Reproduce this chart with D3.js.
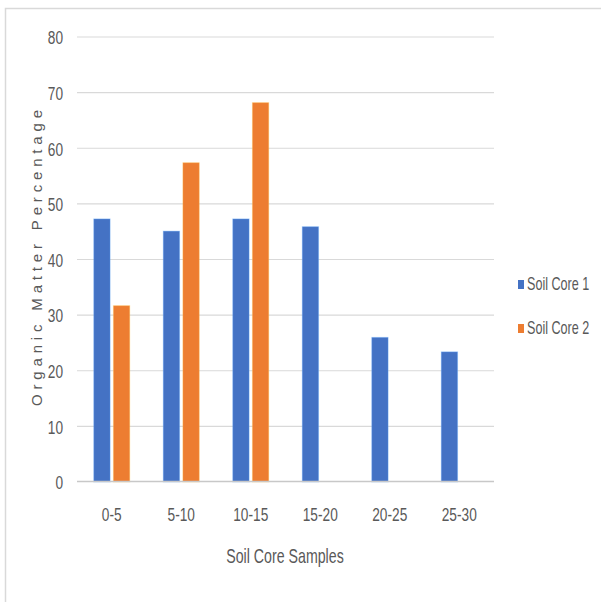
<!DOCTYPE html>
<html>
<head>
<meta charset="utf-8">
<script src="https://cdn.jsdelivr.net/npm/d3@7"></script>
<style>
  html, body { margin: 0; padding: 0; background: #fff; }
  svg { display: block; }
  .narrow { font-family: "Liberation Sans Narrow", "Liberation Sans", sans-serif; fill: #595959; }
</style>
</head>
<body>
<svg id="chart" width="601" height="602"></svg>
<script>
// Organic matter by depth interval for two soil cores
const categories = ["0-5", "5-10", "10-15", "15-20", "20-25", "25-30"];
const seriesNames = ["Soil Core 1", "Soil Core 2"];
const core1 = [47.3, 45.1, 47.3, 45.9, 26.0, 23.4];
const core2 = [31.7, 57.4, 68.2, null, null, null];
const yTicks = [0, 10, 20, 30, 40, 50, 60, 70, 80];
const colors = ["#4472C4", "#ED7D31"];

// condensed look for the labels
const SQUEEZE = "scale(0.72,1)";

const svg = d3.select("#chart");

// chart frame
svg.append("path")
  .attr("d", "M5.5,602 V8.5 H601")
  .attr("fill", "none")
  .attr("stroke", "#d9d9d9")
  .attr("stroke-width", 1.5);

const plot = { left: 77, right: 494, top: 37, bottom: 482 };

const x = d3.scaleBand()
  .domain(categories)
  .range([plot.left, plot.right]);

const x1 = d3.scaleBand()
  .domain(seriesNames)
  .range([0, 36])
  .paddingInner(6 / 36);

const y = d3.scaleLinear()
  .domain([0, 80])
  .range([plot.bottom, plot.top]);

// horizontal gridlines
svg.append("g")
  .selectAll("line")
  .data(yTicks.filter(t => t > 0))
  .join("line")
  .attr("x1", plot.left)
  .attr("x2", plot.right)
  .attr("y1", d => y(d))
  .attr("y2", d => y(d))
  .attr("stroke", "#d9d9d9")
  .attr("stroke-width", 1.2);

// y axis labels
const yAxis = d3.axisLeft(y).tickValues(yTicks).tickSize(0).tickPadding(0);
const gy = svg.append("g")
  .attr("transform", `translate(${plot.left - 14},0)`)
  .call(yAxis);
gy.select(".domain").remove();
gy.selectAll("text")
  .attr("class", "narrow")
  .attr("font-size", 19)
  .attr("fill", "#595959")
  .attr("dy", "0.36em")
  .attr("transform", SQUEEZE);

// bars
const groups = [core1, core2];
groups.forEach((vals, si) => {
  svg.append("g")
    .selectAll("rect")
    .data(vals.map((v, i) => ({ cat: categories[i], v })).filter(d => d.v != null))
    .join("rect")
    .attr("x", d => x(d.cat) + x.bandwidth() / 2 - 18 + x1(seriesNames[si]))
    .attr("width", x1.bandwidth())
    .attr("y", d => y(d.v))
    .attr("height", d => y(0) - y(d.v))
    .attr("fill", colors[si])
    .attr("stroke", d3.color(colors[si]).brighter(1.2))
    .attr("stroke-opacity", 0.35)
    .attr("stroke-width", 1);
});

// category axis
svg.append("line")
  .attr("x1", plot.left)
  .attr("x2", plot.right)
  .attr("y1", y(0) - 0.5)
  .attr("y2", y(0) - 0.5)
  .attr("stroke", "#c8c8c8")
  .attr("stroke-width", 1.3);

const xAxis = d3.axisBottom(x).tickSize(0).tickPadding(0);
const gx = svg.append("g")
  .attr("transform", `translate(0,514)`)
  .call(xAxis);
gx.select(".domain").remove();
gx.selectAll("text")
  .attr("class", "narrow")
  .attr("font-size", 19)
  .attr("fill", "#595959")
  .attr("dy", "0.36em")
  .attr("transform", SQUEEZE);

// axis titles
svg.append("text")
  .attr("class", "narrow")
  .attr("transform", "translate(285,556) scale(0.71,1)")
  .attr("text-anchor", "middle")
  .attr("dy", "0.36em")
  .attr("font-size", 20)
  .text("Soil Core Samples");

svg.append("text")
  .attr("transform", "translate(42,258) rotate(-90)")
  .attr("text-anchor", "middle")
  .attr("font-family", "'Liberation Sans', Arial, sans-serif")
  .attr("font-size", 15)
  .attr("fill", "#595959")
  .attr("textLength", 296)
  .attr("lengthAdjust", "spacing")
  .text("Organic Matter Percentage");

// legend
const legend = svg.append("g")
  .selectAll("g")
  .data(seriesNames)
  .join("g")
  .attr("transform", (d, i) => `translate(518,${284 + i * 44})`);
legend.append("rect")
  .attr("x", 0)
  .attr("y", -4)
  .attr("width", 6)
  .attr("height", 9)
  .attr("fill", (d, i) => colors[i]);
legend.append("text")
  .attr("class", "narrow")
  .attr("transform", "translate(9,0) scale(0.7,1)")
  .attr("dy", "0.36em")
  .attr("font-size", 18)
  .text(d => d);
</script>
</body>
</html>
